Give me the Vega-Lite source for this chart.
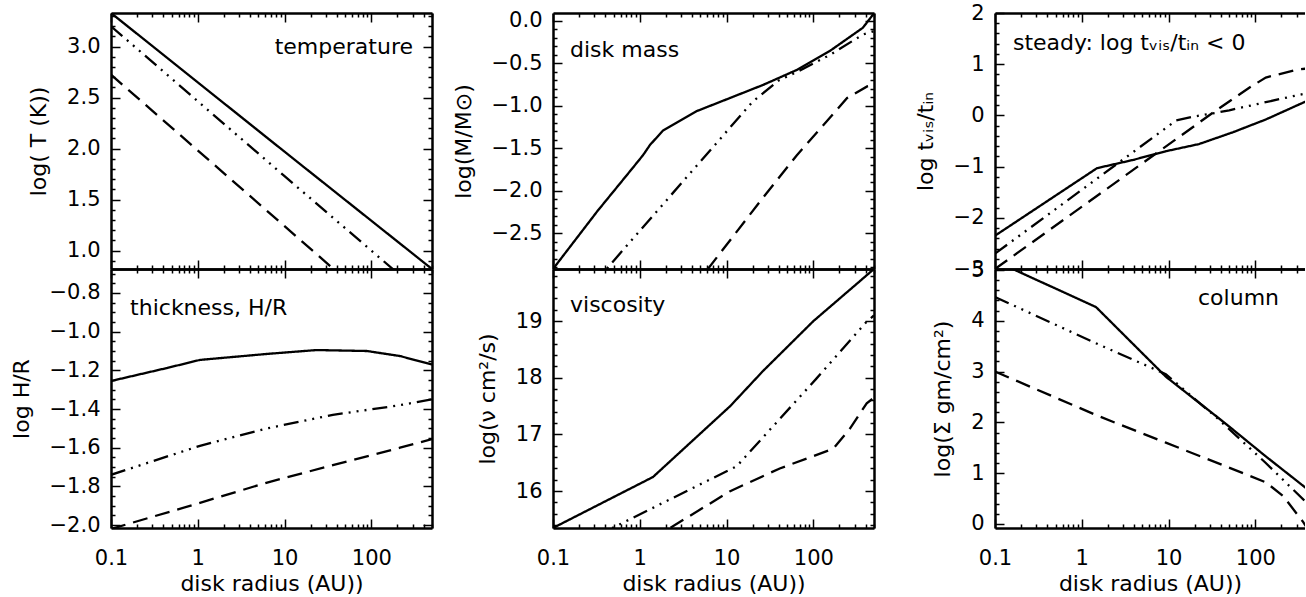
{
  "$schema": "https://vega.github.io/schema/vega-lite/v6.json",
  "background": "white",
  "padding": {"left": 10, "top": 2, "right": 0, "bottom": 0},
  "datasets": {
    "curves": [
      {"panel": "T", "series": "solid", "r": 0.1, "v": 3.33},
      {"panel": "T", "series": "solid", "r": 10, "v": 1.97},
      {"panel": "T", "series": "solid", "r": 500, "v": 0.82},
      {"panel": "T", "series": "dashdot", "r": 0.1, "v": 3.2},
      {"panel": "T", "series": "dashdot", "r": 10, "v": 1.73},
      {"panel": "T", "series": "dashdot", "r": 500, "v": 0.49},
      {"panel": "T", "series": "dashed", "r": 0.1, "v": 2.725},
      {"panel": "T", "series": "dashed", "r": 10, "v": 1.24},
      {"panel": "T", "series": "dashed", "r": 500, "v": -0.025},

      {"panel": "M", "series": "solid", "r": 0.1, "v": -2.92},
      {"panel": "M", "series": "solid", "r": 0.324, "v": -2.24},
      {"panel": "M", "series": "solid", "r": 0.77, "v": -1.77},
      {"panel": "M", "series": "solid", "r": 1.09, "v": -1.58},
      {"panel": "M", "series": "solid", "r": 1.31, "v": -1.46},
      {"panel": "M", "series": "solid", "r": 1.85, "v": -1.29},
      {"panel": "M", "series": "solid", "r": 4.56, "v": -1.06},
      {"panel": "M", "series": "solid", "r": 11, "v": -0.906},
      {"panel": "M", "series": "solid", "r": 26.3, "v": -0.753},
      {"panel": "M", "series": "solid", "r": 64.6, "v": -0.576},
      {"panel": "M", "series": "solid", "r": 155, "v": -0.353},
      {"panel": "M", "series": "solid", "r": 372, "v": -0.08},
      {"panel": "M", "series": "solid", "r": 500, "v": 0.09},
      {"panel": "M", "series": "dashdot", "r": 0.1, "v": -3.64},
      {"panel": "M", "series": "dashdot", "r": 20, "v": -0.95},
      {"panel": "M", "series": "dashdot", "r": 40, "v": -0.7},
      {"panel": "M", "series": "dashdot", "r": 64.6, "v": -0.6},
      {"panel": "M", "series": "dashdot", "r": 155, "v": -0.4},
      {"panel": "M", "series": "dashdot", "r": 372, "v": -0.16},
      {"panel": "M", "series": "dashdot", "r": 500, "v": -0.12},
      {"panel": "M", "series": "dashed", "r": 0.1, "v": -5.28},
      {"panel": "M", "series": "dashed", "r": 26.3, "v": -2.08},
      {"panel": "M", "series": "dashed", "r": 64.6, "v": -1.58},
      {"panel": "M", "series": "dashed", "r": 155, "v": -1.14},
      {"panel": "M", "series": "dashed", "r": 245, "v": -0.906},
      {"panel": "M", "series": "dashed", "r": 417, "v": -0.77},
      {"panel": "M", "series": "dashed", "r": 500, "v": -0.75},

      {"panel": "S", "series": "solid", "r": 0.1, "v": -2.35},
      {"panel": "S", "series": "solid", "r": 1.5, "v": -1.03},
      {"panel": "S", "series": "solid", "r": 3.9, "v": -0.87},
      {"panel": "S", "series": "solid", "r": 9.3, "v": -0.7},
      {"panel": "S", "series": "solid", "r": 22.4, "v": -0.56},
      {"panel": "S", "series": "solid", "r": 55, "v": -0.33},
      {"panel": "S", "series": "solid", "r": 132, "v": -0.08},
      {"panel": "S", "series": "solid", "r": 316, "v": 0.21},
      {"panel": "S", "series": "solid", "r": 500, "v": 0.36},
      {"panel": "S", "series": "dashdot", "r": 0.1, "v": -2.7},
      {"panel": "S", "series": "dashdot", "r": 12.2, "v": -0.1},
      {"panel": "S", "series": "dashdot", "r": 20, "v": -0.02},
      {"panel": "S", "series": "dashdot", "r": 35, "v": 0.05},
      {"panel": "S", "series": "dashdot", "r": 50, "v": 0.1},
      {"panel": "S", "series": "dashdot", "r": 316, "v": 0.4},
      {"panel": "S", "series": "dashdot", "r": 500, "v": 0.47},
      {"panel": "S", "series": "dashed", "r": 0.1, "v": -3.0},
      {"panel": "S", "series": "dashed", "r": 35.5, "v": 0.1},
      {"panel": "S", "series": "dashed", "r": 85, "v": 0.54},
      {"panel": "S", "series": "dashed", "r": 132, "v": 0.74},
      {"panel": "S", "series": "dashed", "r": 316, "v": 0.9},
      {"panel": "S", "series": "dashed", "r": 500, "v": 0.93},

      {"panel": "H", "series": "solid", "r": 0.1, "v": -1.255},
      {"panel": "H", "series": "solid", "r": 0.44, "v": -1.188},
      {"panel": "H", "series": "solid", "r": 1.06, "v": -1.146},
      {"panel": "H", "series": "solid", "r": 6.3, "v": -1.115},
      {"panel": "H", "series": "solid", "r": 23.4, "v": -1.095},
      {"panel": "H", "series": "solid", "r": 89, "v": -1.1},
      {"panel": "H", "series": "solid", "r": 214, "v": -1.126},
      {"panel": "H", "series": "solid", "r": 500, "v": -1.17},
      {"panel": "H", "series": "dashdot", "r": 0.1, "v": -1.74},
      {"panel": "H", "series": "dashdot", "r": 1.06, "v": -1.59},
      {"panel": "H", "series": "dashdot", "r": 6.3, "v": -1.5},
      {"panel": "H", "series": "dashdot", "r": 36, "v": -1.43},
      {"panel": "H", "series": "dashdot", "r": 214, "v": -1.38},
      {"panel": "H", "series": "dashdot", "r": 500, "v": -1.35},
      {"panel": "H", "series": "dashed", "r": 0.1, "v": -2.02},
      {"panel": "H", "series": "dashed", "r": 1.06, "v": -1.885},
      {"panel": "H", "series": "dashed", "r": 6.3, "v": -1.78},
      {"panel": "H", "series": "dashed", "r": 36, "v": -1.69},
      {"panel": "H", "series": "dashed", "r": 214, "v": -1.6},
      {"panel": "H", "series": "dashed", "r": 500, "v": -1.555},

      {"panel": "V", "series": "solid", "r": 0.1, "v": 15.35},
      {"panel": "V", "series": "solid", "r": 1.42, "v": 16.25},
      {"panel": "V", "series": "solid", "r": 11, "v": 17.5},
      {"panel": "V", "series": "solid", "r": 26.3, "v": 18.12},
      {"panel": "V", "series": "solid", "r": 100, "v": 19.0},
      {"panel": "V", "series": "solid", "r": 500, "v": 19.92},
      {"panel": "V", "series": "dashdot", "r": 0.1, "v": 14.83},
      {"panel": "V", "series": "dashdot", "r": 13.1, "v": 16.44},
      {"panel": "V", "series": "dashdot", "r": 109, "v": 17.99},
      {"panel": "V", "series": "dashdot", "r": 412, "v": 18.99},
      {"panel": "V", "series": "dashdot", "r": 500, "v": 19.1},
      {"panel": "V", "series": "dashed", "r": 0.1, "v": 14.08},
      {"panel": "V", "series": "dashed", "r": 2.23, "v": 15.35},
      {"panel": "V", "series": "dashed", "r": 11, "v": 16.0},
      {"panel": "V", "series": "dashed", "r": 41, "v": 16.4},
      {"panel": "V", "series": "dashed", "r": 170, "v": 16.75},
      {"panel": "V", "series": "dashed", "r": 263, "v": 17.1},
      {"panel": "V", "series": "dashed", "r": 412, "v": 17.55},
      {"panel": "V", "series": "dashed", "r": 500, "v": 17.65},

      {"panel": "C", "series": "solid", "r": 0.1, "v": 5.18},
      {"panel": "C", "series": "solid", "r": 1.46, "v": 4.27},
      {"panel": "C", "series": "solid", "r": 9.3, "v": 2.9},
      {"panel": "C", "series": "solid", "r": 35.5, "v": 2.12},
      {"panel": "C", "series": "solid", "r": 55, "v": 1.86},
      {"panel": "C", "series": "solid", "r": 132, "v": 1.33},
      {"panel": "C", "series": "solid", "r": 316, "v": 0.82},
      {"panel": "C", "series": "solid", "r": 500, "v": 0.55},
      {"panel": "C", "series": "dashdot", "r": 0.1, "v": 4.47},
      {"panel": "C", "series": "dashdot", "r": 1.58, "v": 3.53},
      {"panel": "C", "series": "dashdot", "r": 9.3, "v": 2.95},
      {"panel": "C", "series": "dashdot", "r": 35.5, "v": 2.1},
      {"panel": "C", "series": "dashdot", "r": 132, "v": 1.2},
      {"panel": "C", "series": "dashdot", "r": 383, "v": 0.43},
      {"panel": "C", "series": "dashdot", "r": 500, "v": 0.3},
      {"panel": "C", "series": "dashed", "r": 0.1, "v": 3.0},
      {"panel": "C", "series": "dashed", "r": 1.58, "v": 2.12},
      {"panel": "C", "series": "dashed", "r": 9.3, "v": 1.6},
      {"panel": "C", "series": "dashed", "r": 55, "v": 1.08},
      {"panel": "C", "series": "dashed", "r": 132, "v": 0.82},
      {"panel": "C", "series": "dashed", "r": 209, "v": 0.55},
      {"panel": "C", "series": "dashed", "r": 355, "v": 0.04},
      {"panel": "C", "series": "dashed", "r": 500, "v": -0.35}
    ],
    "labels": [
      {"panel": "T", "label": "temperature"},
      {"panel": "M", "label": "disk mass"},
      {"panel": "S", "label": "steady: log tᵥᵢₛ/tᵢₙ < 0"},
      {"panel": "H", "label": "thickness, H/R"},
      {"panel": "V", "label": "viscosity"},
      {"panel": "C", "label": "column"}
    ]
  },
  "columns": 3,
  "spacing": {"row": 0, "column": 121},
  "bounds": "flush",
  "concat": [
    {
      "width": 321, "height": 256,
      "layer": [
        {
          "data": {"name": "curves"},
          "transform": [{"filter": "datum.panel === 'T'"}],
          "mark": {"type": "line", "clip": true, "strokeWidth": 2.3, "color": "black"},
          "encoding": {
            "x": {"field": "r", "type": "quantitative", "scale": {"type": "log", "domain": [0.1, 500], "nice": false},
              "axis": {"orient": "bottom", "title": null, "labels": false,
                "values": [0.1,0.2,0.3,0.4,0.5,0.6,0.7,0.8,0.9,1,2,3,4,5,6,7,8,9,10,20,30,40,50,60,70,80,90,100,200,300,400,500],
                "tickSize": {"condition": {"test": "indexof([0.1,1,10,100], datum.value) >= 0", "value": -9}, "value": -4}}},
            "y": {"field": "v", "type": "quantitative", "scale": {"domain": [0.82, 3.33], "nice": false, "zero": false},
              "axis": {"orient": "left", "title": "log( T (K))",
                "values": [0.9,1,1.1,1.2,1.3,1.4,1.5,1.6,1.7,1.8,1.9,2,2.1,2.2,2.3,2.4,2.5,2.6,2.7,2.8,2.9,3,3.1,3.2,3.3],
                "labelExpr": "abs(datum.value*2-round(datum.value*2))<0.001 ? format(datum.value,'.1f') : ''",
                "tickSize": {"condition": {"test": "abs(datum.value*2-round(datum.value*2))<0.001", "value": -9}, "value": -4}}},
            "strokeDash": {"field": "series", "type": "nominal", "scale": {"domain": ["solid", "dashdot", "dashed"], "range": [[1, 0], [15, 6, 2, 6, 2, 6, 2, 6], [15, 8]]}, "legend": null}
          }
        },
        {
          "data": {"name": "labels"},
          "transform": [{"filter": "datum.panel === 'T'"}],
          "mark": {"type": "text", "align": "right", "baseline": "middle", "fontSize": 22, "font": "DejaVu Sans", "color": "black"},
          "encoding": {
            "x": {"datum": 302, "type": "quantitative", "scale": {"type": "log", "domain": [0.1, 500], "nice": false},
              "axis": {"orient": "top", "title": null, "labels": false,
                "values": [0.1,0.2,0.3,0.4,0.5,0.6,0.7,0.8,0.9,1,2,3,4,5,6,7,8,9,10,20,30,40,50,60,70,80,90,100,200,300,400,500],
                "tickSize": {"condition": {"test": "indexof([0.1,1,10,100], datum.value) >= 0", "value": -9}, "value": -4}}},
            "y": {"datum": 3.0, "type": "quantitative", "scale": {"domain": [0.82, 3.33], "nice": false, "zero": false},
              "axis": {"orient": "right", "title": null, "labels": false,
                "values": [0.9,1,1.1,1.2,1.3,1.4,1.5,1.6,1.7,1.8,1.9,2,2.1,2.2,2.3,2.4,2.5,2.6,2.7,2.8,2.9,3,3.1,3.2,3.3],
                "tickSize": {"condition": {"test": "abs(datum.value*2-round(datum.value*2))<0.001", "value": -9}, "value": -4}}},
            "text": {"field": "label"}
          }
        }
      ]
    },
    {
      "width": 321, "height": 256,
      "layer": [
        {
          "data": {"name": "curves"},
          "transform": [{"filter": "datum.panel === 'M'"}],
          "mark": {"type": "line", "clip": true, "strokeWidth": 2.3, "color": "black"},
          "encoding": {
            "x": {"field": "r", "type": "quantitative", "scale": {"type": "log", "domain": [0.1, 500], "nice": false},
              "axis": {"orient": "bottom", "title": null, "labels": false,
                "values": [0.1,0.2,0.3,0.4,0.5,0.6,0.7,0.8,0.9,1,2,3,4,5,6,7,8,9,10,20,30,40,50,60,70,80,90,100,200,300,400,500],
                "tickSize": {"condition": {"test": "indexof([0.1,1,10,100], datum.value) >= 0", "value": -9}, "value": -4}}},
            "y": {"field": "v", "type": "quantitative", "scale": {"domain": [-2.92, 0.094], "nice": false, "zero": false},
              "axis": {"orient": "left", "title": "log(M/M⊙)",
                "values": [-2.9,-2.8,-2.7,-2.6,-2.5,-2.4,-2.3,-2.2,-2.1,-2,-1.9,-1.8,-1.7,-1.6,-1.5,-1.4,-1.3,-1.2,-1.1,-1,-0.9,-0.8,-0.7,-0.6,-0.5,-0.4,-0.3,-0.2,-0.1,0],
                "labelExpr": "abs(datum.value*2-round(datum.value*2))<0.001 ? format(datum.value,'.1f') : ''",
                "tickSize": {"condition": {"test": "abs(datum.value*2-round(datum.value*2))<0.001", "value": -9}, "value": -4}}},
            "strokeDash": {"field": "series", "type": "nominal", "scale": {"domain": ["solid", "dashdot", "dashed"], "range": [[1, 0], [15, 6, 2, 6, 2, 6, 2, 6], [15, 8]]}, "legend": null}
          }
        },
        {
          "data": {"name": "labels"},
          "transform": [{"filter": "datum.panel === 'M'"}],
          "mark": {"type": "text", "align": "left", "baseline": "middle", "fontSize": 22, "font": "DejaVu Sans", "color": "black"},
          "encoding": {
            "x": {"datum": 0.157, "type": "quantitative", "scale": {"type": "log", "domain": [0.1, 500], "nice": false},
              "axis": {"orient": "top", "title": null, "labels": false,
                "values": [0.1,0.2,0.3,0.4,0.5,0.6,0.7,0.8,0.9,1,2,3,4,5,6,7,8,9,10,20,30,40,50,60,70,80,90,100,200,300,400,500],
                "tickSize": {"condition": {"test": "indexof([0.1,1,10,100], datum.value) >= 0", "value": -9}, "value": -4}}},
            "y": {"datum": -0.34, "type": "quantitative", "scale": {"domain": [-2.92, 0.094], "nice": false, "zero": false},
              "axis": {"orient": "right", "title": null, "labels": false,
                "values": [-2.9,-2.8,-2.7,-2.6,-2.5,-2.4,-2.3,-2.2,-2.1,-2,-1.9,-1.8,-1.7,-1.6,-1.5,-1.4,-1.3,-1.2,-1.1,-1,-0.9,-0.8,-0.7,-0.6,-0.5,-0.4,-0.3,-0.2,-0.1,0],
                "tickSize": {"condition": {"test": "abs(datum.value*2-round(datum.value*2))<0.001", "value": -9}, "value": -4}}},
            "text": {"field": "label"}
          }
        }
      ]
    },
    {
      "width": 310, "height": 256,
      "layer": [
        {
          "data": {"name": "curves"},
          "transform": [{"filter": "datum.panel === 'S'"}],
          "mark": {"type": "line", "clip": true, "strokeWidth": 2.3, "color": "black"},
          "encoding": {
            "x": {"field": "r", "type": "quantitative", "scale": {"type": "log", "domain": [0.1, 373.5], "nice": false},
              "axis": {"orient": "bottom", "title": null, "labels": false,
                "values": [0.1,0.2,0.3,0.4,0.5,0.6,0.7,0.8,0.9,1,2,3,4,5,6,7,8,9,10,20,30,40,50,60,70,80,90,100,200,300],
                "tickSize": {"condition": {"test": "indexof([0.1,1,10,100], datum.value) >= 0", "value": -9}, "value": -4}}},
            "y": {"field": "v", "type": "quantitative", "scale": {"domain": [-3, 2], "nice": false, "zero": false},
              "axis": {"orient": "left", "title": "log tᵥᵢₛ/tᵢₙ",
                "values": [-3,-2.8,-2.6,-2.4,-2.2,-2,-1.8,-1.6,-1.4,-1.2,-1,-0.8,-0.6,-0.4,-0.2,0,0.2,0.4,0.6,0.8,1,1.2,1.4,1.6,1.8,2],
                "labelExpr": "abs(datum.value-round(datum.value))<0.001 ? format(datum.value,'d') : ''",
                "tickSize": {"condition": {"test": "abs(datum.value-round(datum.value))<0.001", "value": -9}, "value": -4}}},
            "strokeDash": {"field": "series", "type": "nominal", "scale": {"domain": ["solid", "dashdot", "dashed"], "range": [[1, 0], [15, 6, 2, 6, 2, 6, 2, 6], [15, 8]]}, "legend": null}
          }
        },
        {
          "data": {"name": "labels"},
          "transform": [{"filter": "datum.panel === 'S'"}],
          "mark": {"type": "text", "align": "left", "baseline": "middle", "fontSize": 22, "font": "DejaVu Sans", "color": "black"},
          "encoding": {
            "x": {"datum": 0.161, "type": "quantitative", "scale": {"type": "log", "domain": [0.1, 373.5], "nice": false},
              "axis": {"orient": "top", "title": null, "labels": false,
                "values": [0.1,0.2,0.3,0.4,0.5,0.6,0.7,0.8,0.9,1,2,3,4,5,6,7,8,9,10,20,30,40,50,60,70,80,90,100,200,300],
                "tickSize": {"condition": {"test": "indexof([0.1,1,10,100], datum.value) >= 0", "value": -9}, "value": -4}}},
            "y": {"datum": 1.42, "type": "quantitative", "scale": {"domain": [-3, 2], "nice": false, "zero": false},
              "axis": {"orient": "right", "title": null, "labels": false, "ticks": false, "domain": false}},
            "text": {"field": "label"}
          }
        }
      ]
    },
    {
      "width": 321, "height": 259,
      "layer": [
        {
          "data": {"name": "curves"},
          "transform": [{"filter": "datum.panel === 'H'"}],
          "mark": {"type": "line", "clip": true, "strokeWidth": 2.3, "color": "black"},
          "encoding": {
            "x": {"field": "r", "type": "quantitative", "scale": {"type": "log", "domain": [0.1, 500], "nice": false},
              "axis": {"orient": "bottom", "title": "disk radius (AU))",
                "values": [0.1,0.2,0.3,0.4,0.5,0.6,0.7,0.8,0.9,1,2,3,4,5,6,7,8,9,10,20,30,40,50,60,70,80,90,100,200,300,400,500],
                "labelExpr": "indexof([0.1,1,10,100], datum.value) >= 0 ? format(datum.value,'~g') : ''",
                "tickSize": {"condition": {"test": "indexof([0.1,1,10,100], datum.value) >= 0", "value": -9}, "value": -4}}},
            "y": {"field": "v", "type": "quantitative", "scale": {"domain": [-2.015, -0.676], "nice": false, "zero": false},
              "axis": {"orient": "left", "title": "log H/R",
                "values": [-2,-1.95,-1.9,-1.85,-1.8,-1.75,-1.7,-1.65,-1.6,-1.55,-1.5,-1.45,-1.4,-1.35,-1.3,-1.25,-1.2,-1.15,-1.1,-1.05,-1,-0.95,-0.9,-0.85,-0.8,-0.75,-0.7],
                "labelExpr": "abs(datum.value*5-round(datum.value*5))<0.001 ? format(datum.value,'.1f') : ''",
                "tickSize": {"condition": {"test": "abs(datum.value*5-round(datum.value*5))<0.001", "value": -9}, "value": -4}}},
            "strokeDash": {"field": "series", "type": "nominal", "scale": {"domain": ["solid", "dashdot", "dashed"], "range": [[1, 0], [15, 6, 2, 6, 2, 6, 2, 6], [15, 8]]}, "legend": null}
          }
        },
        {
          "data": {"name": "labels"},
          "transform": [{"filter": "datum.panel === 'H'"}],
          "mark": {"type": "text", "align": "left", "baseline": "middle", "fontSize": 22, "font": "DejaVu Sans", "color": "black"},
          "encoding": {
            "x": {"datum": 0.166, "type": "quantitative", "scale": {"type": "log", "domain": [0.1, 500], "nice": false},
              "axis": {"orient": "top", "title": null, "labels": false,
                "values": [0.1,0.2,0.3,0.4,0.5,0.6,0.7,0.8,0.9,1,2,3,4,5,6,7,8,9,10,20,30,40,50,60,70,80,90,100,200,300,400,500],
                "tickSize": {"condition": {"test": "indexof([0.1,1,10,100], datum.value) >= 0", "value": -9}, "value": -4}}},
            "y": {"datum": -0.878, "type": "quantitative", "scale": {"domain": [-2.015, -0.676], "nice": false, "zero": false},
              "axis": {"orient": "right", "title": null, "labels": false,
                "values": [-2,-1.95,-1.9,-1.85,-1.8,-1.75,-1.7,-1.65,-1.6,-1.55,-1.5,-1.45,-1.4,-1.35,-1.3,-1.25,-1.2,-1.15,-1.1,-1.05,-1,-0.95,-0.9,-0.85,-0.8,-0.75,-0.7],
                "tickSize": {"condition": {"test": "abs(datum.value*5-round(datum.value*5))<0.001", "value": -9}, "value": -4}}},
            "text": {"field": "label"}
          }
        }
      ]
    },
    {
      "width": 321, "height": 259,
      "layer": [
        {
          "data": {"name": "curves"},
          "transform": [{"filter": "datum.panel === 'V'"}],
          "mark": {"type": "line", "clip": true, "strokeWidth": 2.3, "color": "black"},
          "encoding": {
            "x": {"field": "r", "type": "quantitative", "scale": {"type": "log", "domain": [0.1, 500], "nice": false},
              "axis": {"orient": "bottom", "title": "disk radius (AU))",
                "values": [0.1,0.2,0.3,0.4,0.5,0.6,0.7,0.8,0.9,1,2,3,4,5,6,7,8,9,10,20,30,40,50,60,70,80,90,100,200,300,400,500],
                "labelExpr": "indexof([0.1,1,10,100], datum.value) >= 0 ? format(datum.value,'~g') : ''",
                "tickSize": {"condition": {"test": "indexof([0.1,1,10,100], datum.value) >= 0", "value": -9}, "value": -4}}},
            "y": {"field": "v", "type": "quantitative", "scale": {"domain": [15.35, 19.92], "nice": false, "zero": false},
              "axis": {"orient": "left", "title": "log(ν cm²/s)",
                "values": [15.4,15.6,15.8,16,16.2,16.4,16.6,16.8,17,17.2,17.4,17.6,17.8,18,18.2,18.4,18.6,18.8,19,19.2,19.4,19.6,19.8],
                "labelExpr": "abs(datum.value-round(datum.value))<0.001 ? format(datum.value,'d') : ''",
                "tickSize": {"condition": {"test": "abs(datum.value-round(datum.value))<0.001", "value": -9}, "value": -4}}},
            "strokeDash": {"field": "series", "type": "nominal", "scale": {"domain": ["solid", "dashdot", "dashed"], "range": [[1, 0], [15, 6, 2, 6, 2, 6, 2, 6], [15, 8]]}, "legend": null}
          }
        },
        {
          "data": {"name": "labels"},
          "transform": [{"filter": "datum.panel === 'V'"}],
          "mark": {"type": "text", "align": "left", "baseline": "middle", "fontSize": 22, "font": "DejaVu Sans", "color": "black"},
          "encoding": {
            "x": {"datum": 0.157, "type": "quantitative", "scale": {"type": "log", "domain": [0.1, 500], "nice": false},
              "axis": {"orient": "top", "title": null, "labels": false,
                "values": [0.1,0.2,0.3,0.4,0.5,0.6,0.7,0.8,0.9,1,2,3,4,5,6,7,8,9,10,20,30,40,50,60,70,80,90,100,200,300,400,500],
                "tickSize": {"condition": {"test": "indexof([0.1,1,10,100], datum.value) >= 0", "value": -9}, "value": -4}}},
            "y": {"datum": 19.28, "type": "quantitative", "scale": {"domain": [15.35, 19.92], "nice": false, "zero": false},
              "axis": {"orient": "right", "title": null, "labels": false,
                "values": [15.4,15.6,15.8,16,16.2,16.4,16.6,16.8,17,17.2,17.4,17.6,17.8,18,18.2,18.4,18.6,18.8,19,19.2,19.4,19.6,19.8],
                "tickSize": {"condition": {"test": "abs(datum.value-round(datum.value))<0.001", "value": -9}, "value": -4}}},
            "text": {"field": "label"}
          }
        }
      ]
    },
    {
      "width": 310, "height": 259,
      "layer": [
        {
          "data": {"name": "curves"},
          "transform": [{"filter": "datum.panel === 'C'"}],
          "mark": {"type": "line", "clip": true, "strokeWidth": 2.3, "color": "black"},
          "encoding": {
            "x": {"field": "r", "type": "quantitative", "scale": {"type": "log", "domain": [0.1, 373.5], "nice": false},
              "axis": {"orient": "bottom", "title": "disk radius (AU))",
                "values": [0.1,0.2,0.3,0.4,0.5,0.6,0.7,0.8,0.9,1,2,3,4,5,6,7,8,9,10,20,30,40,50,60,70,80,90,100,200,300],
                "labelExpr": "indexof([0.1,1,10,100], datum.value) >= 0 ? format(datum.value,'~g') : ''",
                "tickSize": {"condition": {"test": "indexof([0.1,1,10,100], datum.value) >= 0", "value": -9}, "value": -4}}},
            "y": {"field": "v", "type": "quantitative", "scale": {"domain": [-0.08, 5.02], "nice": false, "zero": false},
              "axis": {"orient": "left", "title": "log(Σ gm/cm²)",
                "values": [0,0.2,0.4,0.6,0.8,1,1.2,1.4,1.6,1.8,2,2.2,2.4,2.6,2.8,3,3.2,3.4,3.6,3.8,4,4.2,4.4,4.6,4.8,5],
                "labelExpr": "abs(datum.value-round(datum.value))<0.001 ? format(datum.value,'d') : ''",
                "tickSize": {"condition": {"test": "abs(datum.value-round(datum.value))<0.001", "value": -9}, "value": -4}}},
            "strokeDash": {"field": "series", "type": "nominal", "scale": {"domain": ["solid", "dashdot", "dashed"], "range": [[1, 0], [15, 6, 2, 6, 2, 6, 2, 6], [15, 8]]}, "legend": null}
          }
        },
        {
          "data": {"name": "labels"},
          "transform": [{"filter": "datum.panel === 'C'"}],
          "mark": {"type": "text", "align": "right", "baseline": "middle", "fontSize": 22, "font": "DejaVu Sans", "color": "black"},
          "encoding": {
            "x": {"datum": 187.5, "type": "quantitative", "scale": {"type": "log", "domain": [0.1, 373.5], "nice": false},
              "axis": {"orient": "top", "title": null, "labels": false,
                "values": [0.1,0.2,0.3,0.4,0.5,0.6,0.7,0.8,0.9,1,2,3,4,5,6,7,8,9,10,20,30,40,50,60,70,80,90,100,200,300],
                "tickSize": {"condition": {"test": "indexof([0.1,1,10,100], datum.value) >= 0", "value": -9}, "value": -4}}},
            "y": {"datum": 4.45, "type": "quantitative", "scale": {"domain": [-0.08, 5.02], "nice": false, "zero": false},
              "axis": {"orient": "right", "title": null, "labels": false, "ticks": false, "domain": false}},
            "text": {"field": "label"}
          }
        }
      ]
    }
  ],
  "config": {
    "view": {"stroke": null},
    "font": "DejaVu Sans",
    "axis": {
      "grid": false,
      "domainColor": "black",
      "domainWidth": 2.5,
      "tickColor": "black",
      "tickWidth": 1.5,
      "labelFont": "DejaVu Sans",
      "labelFontSize": 21,
      "labelColor": "black",
      "labelFlush": false,
      "labelOverlap": false,
      "labelBound": false,
      "labelPadding": 20,
      "titleFont": "DejaVu Sans",
      "titleFontSize": 22,
      "titleFontWeight": "normal",
      "titleColor": "black",
      "titlePadding": 16
    },
    "axisBottom": {"labelPadding": 28, "titlePadding": 0}
  }
}
